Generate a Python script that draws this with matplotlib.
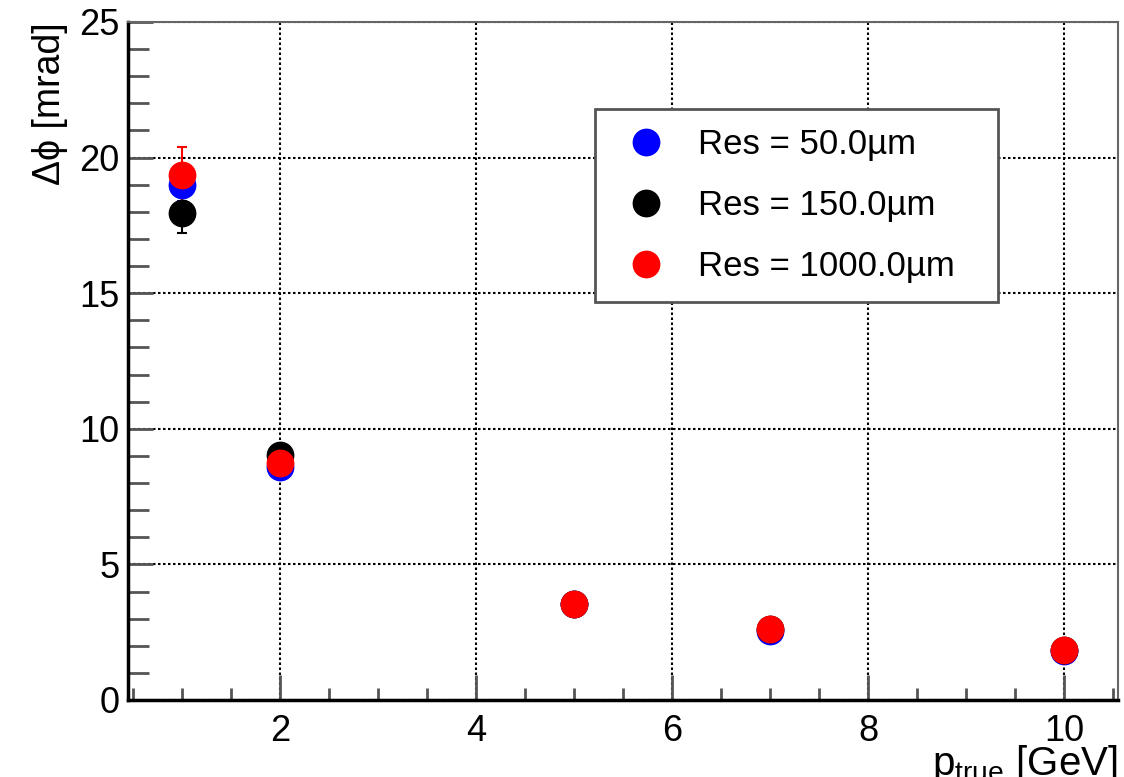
import matplotlib.pyplot as plt
from matplotlib.lines import Line2D
from matplotlib.ticker import MultipleLocator

plt.rcParams["font.family"] = ["Liberation Sans", "DejaVu Sans"]
plt.rcParams["mathtext.fontset"] = "custom"
plt.rcParams["mathtext.rm"] = "Liberation Sans"
plt.rcParams["mathtext.it"] = "Liberation Sans:italic"

# momentum points [GeV]
p_true = [1, 2, 5, 7, 10]

# angular resolution [mrad] per hit resolution
res_labels = ["Res = 50.0\u00b5m", "Res = 150.0\u00b5m", "Res = 1000.0\u00b5m"]
res_colors = ["#0000ff", "#000000", "#ff0000"]
dphi = [
    [19.0, 8.6, 3.55, 2.55, 1.80],
    [17.96, 9.03, 3.55, 2.60, 1.84],
    [19.36, 8.74, 3.55, 2.62, 1.85],
]
dphi_err = [
    [0.60, 0.25, 0.10, 0.08, 0.06],
    [0.74, 0.25, 0.10, 0.08, 0.06],
    [1.03, 0.25, 0.10, 0.08, 0.06],
]

fig = plt.figure(figsize=(11.24, 7.77), dpi=100)
ax = fig.add_axes([0.1139, 0.0991, 0.8808, 0.8726])

handles = []
for y, e, c, lab in zip(dphi, dphi_err, res_colors, res_labels):
    ax.errorbar(p_true, y, yerr=e, fmt="o", color=c, ms=19, mec=c,
                elinewidth=1.5, capsize=3.5, capthick=1.5, zorder=3)
    handles.append(Line2D([], [], ls="none", marker="o", ms=19, color=c, label=lab))

ax.set_xlim(0.45, 10.55)
ax.set_ylim(0, 25)
ax.xaxis.set_major_locator(MultipleLocator(2))
ax.xaxis.set_minor_locator(MultipleLocator(0.5))
ax.yaxis.set_major_locator(MultipleLocator(5))
ax.yaxis.set_minor_locator(MultipleLocator(1))

ax.grid(True, which="major", color="black", linestyle=(0, (1.2, 1.2)), linewidth=1.5, zorder=1)
ax.tick_params(which="both", direction="in", top=False, right=False, labelsize=26,
               color="#555555", width=2)
ax.tick_params(which="major", length=18)
ax.tick_params(axis="x", which="major", pad=10)
ax.tick_params(axis="y", which="major", pad=6)
ax.tick_params(which="minor", length=9)
ax.tick_params(axis="y", which="minor", length=15)

for side in ["left", "bottom"]:
    ax.spines[side].set_linewidth(2.5)
    ax.spines[side].set_color("black")
for side in ["top", "right"]:
    ax.spines[side].set_linewidth(1.5)
    ax.spines[side].set_color("#666666")

ax.set_ylabel("\u0394\u03d5 [mrad]", fontsize=27, loc="top", labelpad=8)
ax.text(1.0, -0.064, r"$\mathrm{p}_{\mathrm{true}}$ [GeV]", transform=ax.transAxes,
        ha="right", va="top", fontsize=29)

leg = ax.legend(handles=handles, loc="upper left", bbox_to_anchor=(0.4717, 0.0, 0.407, 0.8716),
                mode="expand", fontsize=25, frameon=True, fancybox=False,
                edgecolor="#555555", framealpha=1, borderpad=0.55, labelspacing=0.8,
                handlelength=1.84, handletextpad=0.58, borderaxespad=0)
leg.get_frame().set_linewidth(2)

fig.savefig("out.png", dpi=100)
